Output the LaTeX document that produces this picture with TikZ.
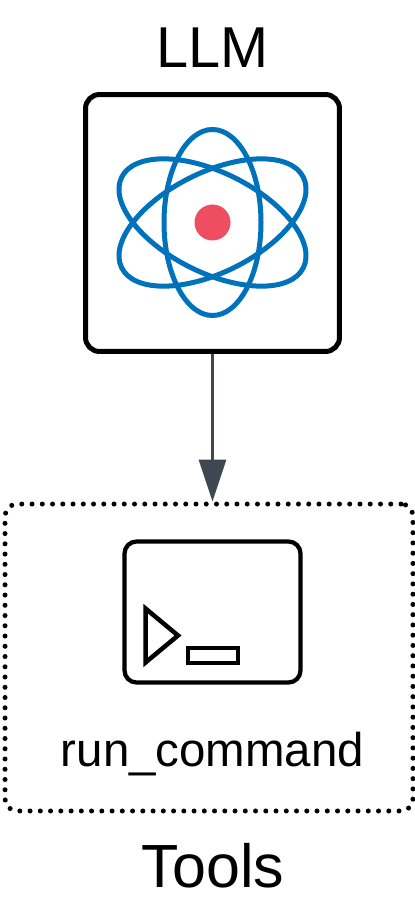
\documentclass[tikz,border=0pt]{standalone}
\usepackage{fontspec}
\setmainfont{Liberation Sans}
\usepackage{xcolor}
\usetikzlibrary{arrows.meta, positioning}
\definecolor{pBlue}{HTML}{0072BC}
\definecolor{pRed}{HTML}{EF4E60}
\definecolor{pSlate}{HTML}{3F4752}

\begin{document}
\begin{tikzpicture}[
  x=0.02cm, y=-0.02cm,
  title/.style={font=\fontsize{32.8}{36}\selectfont, inner sep=0pt, anchor=base},
  model/.style={rectangle, rounded corners=0.28cm, draw=black, line width=0.1cm,
                minimum width=5.08cm, minimum height=5.14cm},
  group/.style={rectangle, rounded corners=0.24cm, draw=black, line width=0.1cm, line cap=round,
                dash pattern=on 0pt off 0.205cm, minimum width=8.16cm, minimum height=6.14cm},
  shell/.style={rectangle, rounded corners=0.24cm, draw=black, line width=0.085cm,
                minimum width=3.52cm, minimum height=2.82cm},
  ring/.style={draw=pBlue, line width=0.1cm},
  flow/.style={draw=pSlate, line width=0.06cm, -{Triangle[length=0.84cm,width=0.54cm]}}
]
\useasboundingbox (0,0) rectangle (415,911);

\node[title] (llmlabel) at (212.5,68) {LLM};
\node[model] (llm) at (212.5,223) {};

% atom
\node[circle, fill=pRed, minimum size=0.72cm, inner sep=0pt] (nucleus) at (212.5,222.5) {};
\draw[ring] (nucleus.center) ellipse [x radius=48.5, y radius=93];
\foreach \ang in {63.5,116.5}
  \draw[ring, rotate around={\ang:(nucleus.center)}]
    (nucleus.center) ellipse [x radius=50, y radius=101.5];

\node[group] (tools) at (209,657.5) {};
\draw[flow] (llm.south) -- (llm.south |- tools.north);

% terminal
\node[shell] (shell) at (212.5,612) {};
\node[draw=black, line width=0.08cm, inner sep=0pt, minimum width=1cm, minimum height=0.3cm] (cursor) at (212.5,655) {};
\draw[black, line width=0.09cm, line join=miter] (145.5,608.5) -- (178,635.5) -- (145.5,662.5) -- cycle;

\node[font=\fontsize{27}{30}\selectfont, inner sep=0pt, anchor=base] (toollabel) at (212.5,766) {run\_command};
\node[title, font=\fontsize{34.7}{38}\selectfont] (toolstitle) at (213,887) {Tools};
\end{tikzpicture}
\end{document}
